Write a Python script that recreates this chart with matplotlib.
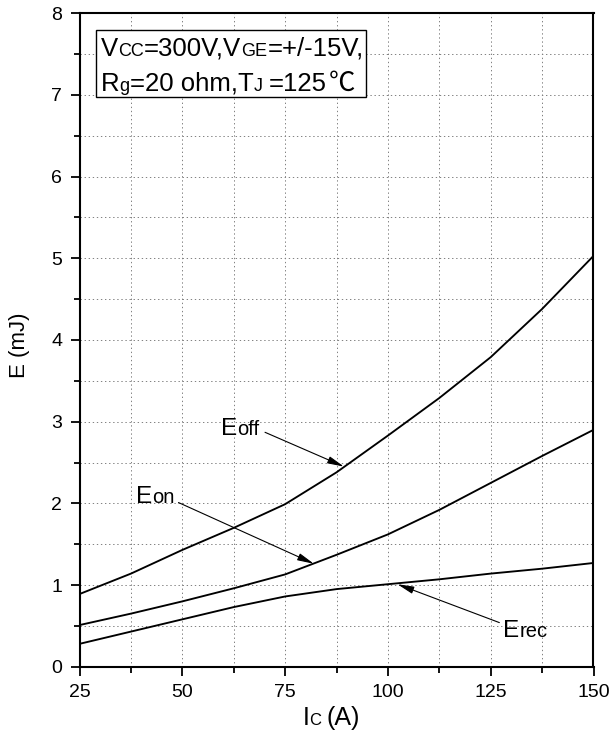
import matplotlib
matplotlib.use('Agg')
import matplotlib.pyplot as plt
import matplotlib.transforms as mtransforms
from matplotlib.ticker import MultipleLocator
from matplotlib.patches import Rectangle

plt.rcParams['font.family'] = ['Liberation Sans', 'Noto Sans CJK SC', 'DejaVu Sans']

# ---- data ----
Ic = [25, 37.5, 50, 62.5, 75, 87.5, 100, 112.5, 125, 137.5, 150]
E_off = [0.89, 1.14, 1.43, 1.70, 1.99, 2.38, 2.83, 3.29, 3.79, 4.38, 5.03]
E_on = [0.51, 0.65, 0.80, 0.96, 1.13, 1.37, 1.62, 1.92, 2.25, 2.58, 2.90]
E_rec = [0.28, 0.43, 0.58, 0.73, 0.86, 0.95, 1.01, 1.07, 1.14, 1.20, 1.27]

x_ticks = [25, 50, 75, 100, 125, 150]
y_ticks = [0, 1, 2, 3, 4, 5, 6, 7, 8]

W, H = 610, 733
fig = plt.figure(figsize=(W / 100, H / 100), dpi=100)
L, R, T, B = 79.6, 593.5, 13.3, 666.7
ax = fig.add_axes([L / W, 1 - B / H, (R - L) / W, (B - T) / H])
ax.set_xlim(25, 150)
ax.set_ylim(0, 8)

for ser in (E_off, E_on, E_rec):
    ax.plot(Ic, ser, color='black', lw=1.35, zorder=3,
            solid_joinstyle='round', antialiased=True)

ax.set_xticks(x_ticks)
ax.set_yticks(y_ticks)
ax.xaxis.set_minor_locator(MultipleLocator(12.5))
ax.yaxis.set_minor_locator(MultipleLocator(0.5))
ax.tick_params(which='major', direction='out', length=6.5, width=1.3,
               labelsize=14, pad=6, top=False, right=False)
ax.tick_params(which='minor', direction='out', length=4, width=1.3,
               top=False, right=False)
ax.grid(True, which='both', color='#808080', linestyle=(0, (1.4, 2.8)), linewidth=0.7)
for sp in ax.spines.values():
    sp.set_linewidth(1.5)

renderer = fig.canvas.get_renderer()


def rich(x, y, parts, transform, zorder=6):
    off = 0.0
    for p in parts:
        s, size = p[0], p[1]
        gap = p[2] if len(p) > 2 else 0.0
        fam = p[3] if len(p) > 3 else None
        off += gap
        tr = mtransforms.offset_copy(transform, fig=fig, x=off, y=0, units='points')
        kw = {}
        if fam:
            kw['family'] = fam
        t = ax.text(x, y, s, fontsize=size, transform=tr, ha='left',
                    va='baseline', zorder=zorder, clip_on=False, **kw)
        off += t.get_window_extent(renderer).width * 72 / fig.dpi


# parameter box
ax.add_patch(Rectangle((29.0, 6.97), 65.6, 0.825, facecolor='white',
                       edgecolor='black', lw=1.0, zorder=5))
rich(30.1, 7.48, [("V", 18.5), ("CC", 13, 0.0), ("=300V,V", 18.5, 0.3),
                  ("GE", 13, 0.0), ("=+/-15V,", 18.5, 0.3)], ax.transData)
rich(30.1, 7.05, [("R", 18.5), ("g", 13, 0.2), ("=20 ohm,T", 18.5, 0.3),
                  ("J", 13, -0.3), ("=125", 18.5, 4.5),
                  ("℃", 19, 1.5, ['Noto Sans CJK SC'])], ax.transData)

# curve labels
rich(59.4, 2.84, [("E", 17.5), ("off", 14.5, 0.0)], ax.transData)
rich(38.6, 2.01, [("E", 17.5), ("on", 14.5, 0.0)], ax.transData)
rich(128.0, 0.36, [("E", 17.5), ("rec", 14.5, 0.0)], ax.transData)

arrow_kw = dict(arrowstyle='-|>,head_length=1.0,head_width=0.22', mutation_scale=10,
                lw=0.8, color='black', shrinkA=0, shrinkB=0)
ax.annotate('', xy=(89.3, 2.45), xytext=(70.1, 2.87), arrowprops=arrow_kw, zorder=4)
ax.annotate('', xy=(82.0, 1.26), xytext=(49.05, 2.01), arrowprops=arrow_kw, zorder=4)
ax.annotate('', xy=(102.3, 1.01), xytext=(127.1, 0.54), arrowprops=arrow_kw, zorder=4)

# axis labels
rich(79.2, -0.0892, [("I", 18), ("C", 12, 0.0), ("(A)", 18, 4.0)], ax.get_xaxis_transform())
fig.text(30 / W, 1 - 345 / H, 'E (mJ)', rotation=90, ha='right', va='center', fontsize=16)

fig.savefig('out.png', dpi=100)
